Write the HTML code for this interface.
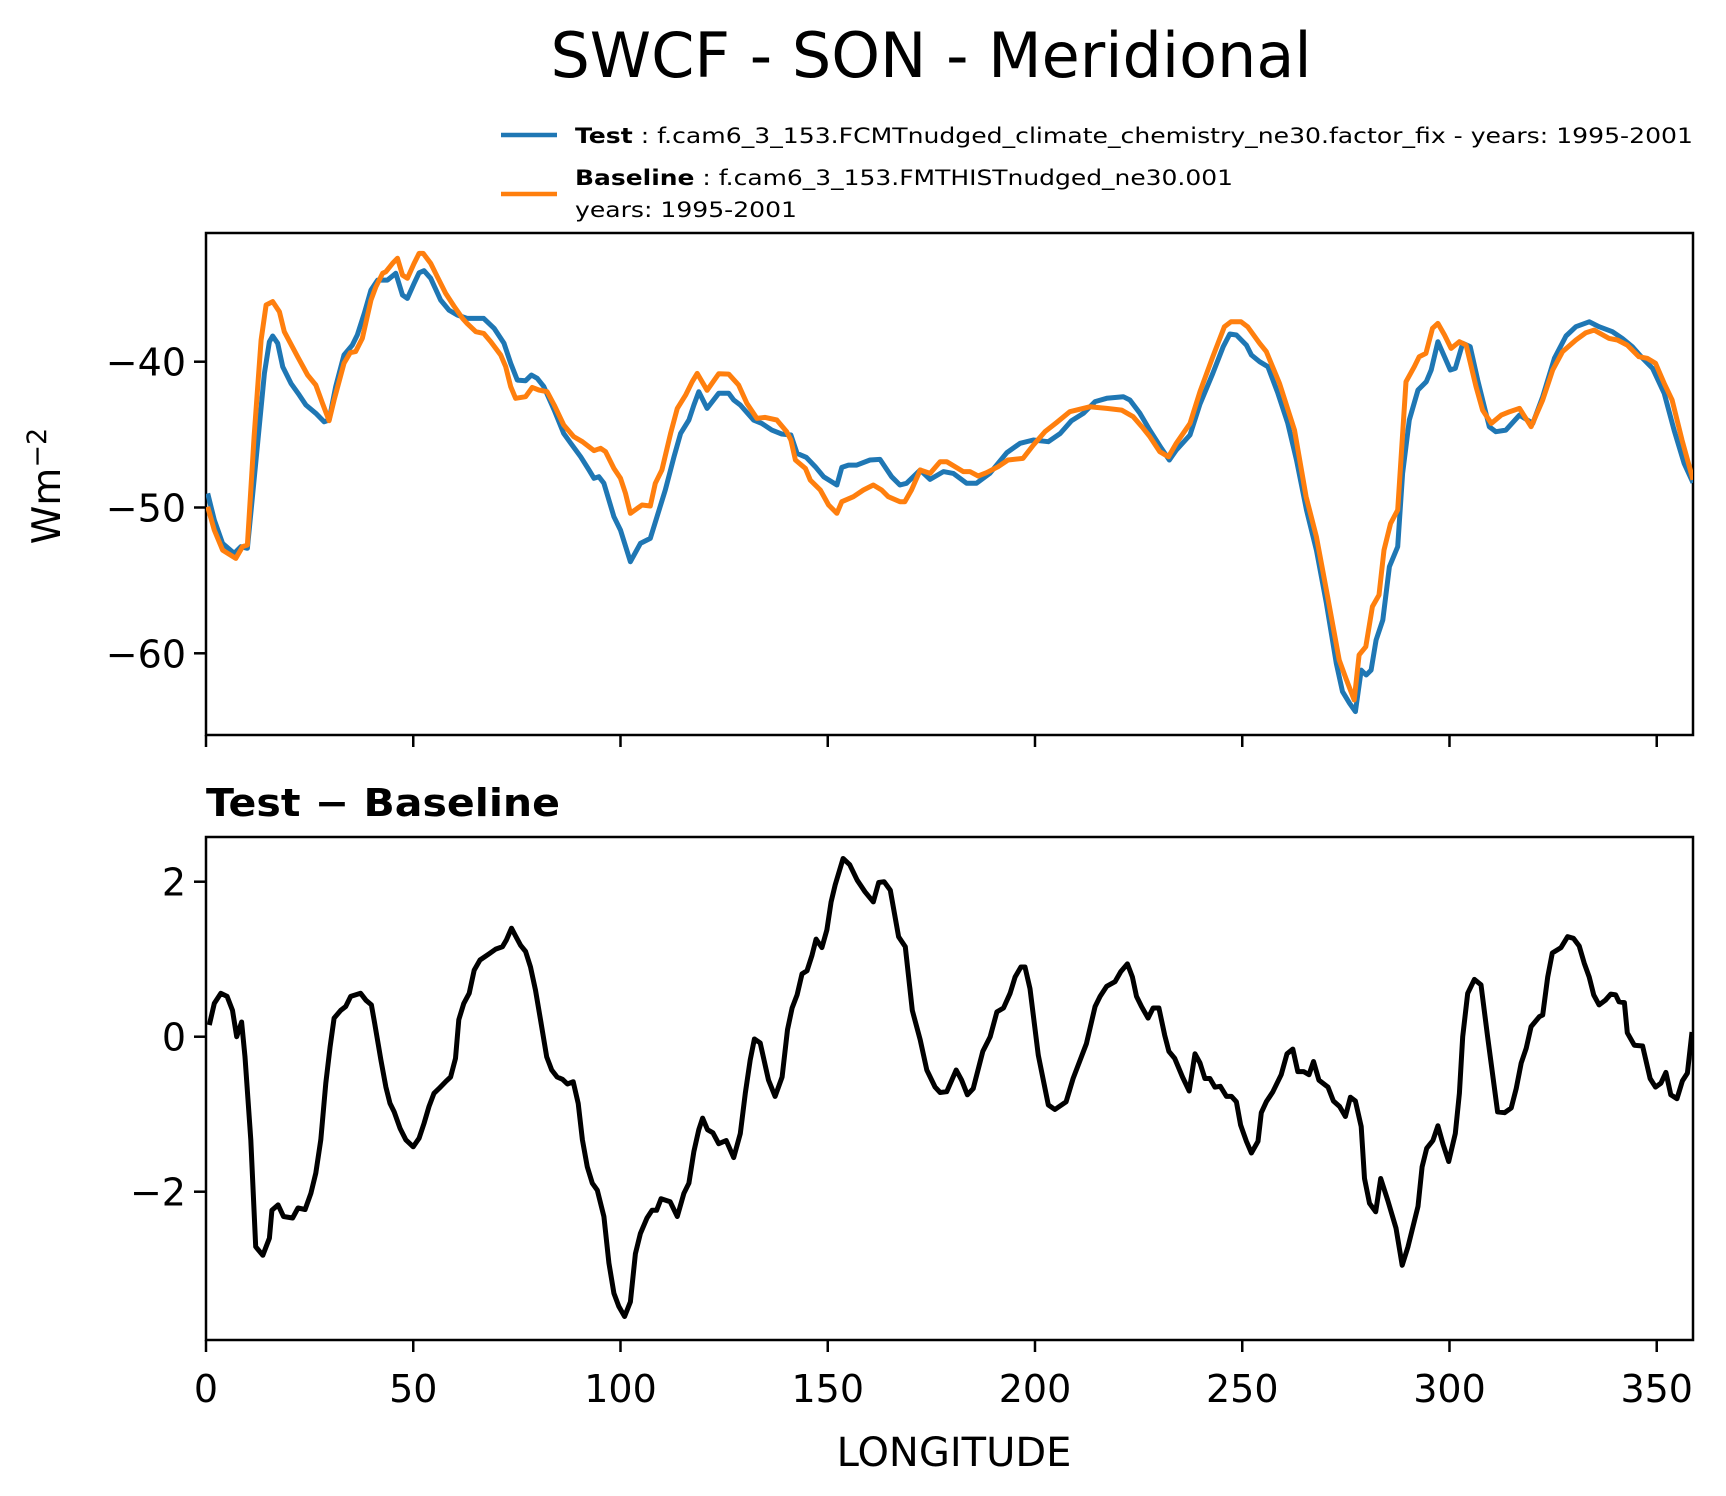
<!DOCTYPE html>
<html><head><meta charset="utf-8"><style>
html,body{margin:0;padding:0;background:#fff}
svg{display:block}
text{font-family:"DejaVu Sans","Liberation Sans",sans-serif;fill:#000}
</style></head><body>
<svg id="chart" width="1726" height="1496" viewBox="0 0 1726 1496" xmlns="http://www.w3.org/2000/svg">
<text x="931" y="77" font-size="62" text-anchor="middle">SWCF - SON - Meridional</text>
<g>
<line x1="501" y1="135" x2="557" y2="135" stroke="#1f77b4" stroke-width="4.5"/>
<text x="575" y="143" font-size="21" textLength="1118" lengthAdjust="spacingAndGlyphs"><tspan font-weight="bold">Test</tspan> : f.cam6_3_153.FCMTnudged_climate_chemistry_ne30.factor_fix - years: 1995-2001</text>
<line x1="501" y1="194" x2="557" y2="194" stroke="#ff7f0e" stroke-width="4.5"/>
<text x="575" y="185" font-size="21" textLength="658" lengthAdjust="spacingAndGlyphs"><tspan font-weight="bold">Baseline</tspan> : f.cam6_3_153.FMTHISTnudged_ne30.001</text>
<text x="575" y="217" font-size="21" textLength="222" lengthAdjust="spacingAndGlyphs">years: 1995-2001</text>
</g>
<text transform="translate(60,486) rotate(-90)" font-size="39" text-anchor="middle">Wm<tspan dy="-14" font-size="27">−2</tspan></text>
<text x="206" y="816" font-size="38" font-weight="bold" textLength="354" lengthAdjust="spacingAndGlyphs">Test − Baseline</text>
<text x="954" y="1466" font-size="40" text-anchor="middle">LONGITUDE</text>
<g id="top"></g>
<g id="bot"></g>
</svg>
<script>
const xTicks=[0,50,100,150,200,250,300,350];
const topTicks=[-40,-50,-60];
const botTicks=[2,0,-2];
const lonTest=[0.4,2,4,6.8,8.4,10,12,14.1,15.3,16.1,17.3,18.5,20.5,22.5,24.1,26.5,28.5,29.7,31.3,33.3,35.3,36.5,38.2,39.8,41.4,43.8,45.8,47.4,48.6,50.2,51.4,52.6,54.2,56.6,58.6,60.6,63,67,69.5,71.9,73.5,75.1,77.1,78.5,79.9,81.5,84,86.3,88,90.4,92.4,93.6,94.8,96,98.4,100,102.4,104.8,107.2,108.8,110.8,112.9,114.5,116.5,117.7,118.9,120.9,123.7,126.1,127.3,128.9,132.1,134.1,136.5,138.9,141.1,142.6,144.8,147,149,152.2,153.4,155,157,160.2,162.6,165.4,167.4,169,172.3,174.7,177.9,180.3,183.5,185.9,189.1,193.2,196.4,199.6,203.2,206.1,208.8,211.7,214.5,217.3,221.3,222.9,225.3,227.7,230.5,232.4,234.1,237.4,239.8,242.9,245.4,247,248.6,251,252.2,254.2,256.2,258.6,261,263.1,265.5,267.9,270.3,272.7,274.2,275.9,277.3,278.7,279.9,281.1,282.3,283.9,285.5,287.5,288.7,290.3,292.4,294.4,295.6,297.2,298.8,300.2,301.4,303.2,305,306.8,309.6,311.2,313.6,316.9,320.1,322.5,325.3,328.1,330.5,333.7,336.1,339.3,341.7,344.1,346.6,349,351.8,354.2,356.6,358.75];
const test=[-49.03,-50.86,-52.46,-53.15,-52.69,-52.8,-46.97,-40.8,-38.63,-38.24,-38.74,-40.34,-41.49,-42.29,-42.97,-43.54,-44.12,-44,-41.71,-39.54,-38.86,-38.17,-36.68,-35.08,-34.4,-34.4,-33.94,-35.43,-35.66,-34.63,-33.9,-33.76,-34.28,-35.77,-36.46,-36.8,-37.03,-37.03,-37.71,-38.74,-40.11,-41.26,-41.3,-40.91,-41.14,-41.71,-43.32,-44.92,-45.6,-46.52,-47.43,-48,-47.89,-48.34,-50.63,-51.55,-53.72,-52.46,-52.12,-50.63,-48.8,-46.52,-44.92,-44,-42.97,-42.06,-43.2,-42.17,-42.17,-42.63,-42.97,-44,-44.23,-44.69,-44.96,-45.03,-46.29,-46.56,-47.2,-47.89,-48.46,-47.25,-47.09,-47.09,-46.74,-46.7,-47.89,-48.46,-48.34,-47.43,-48.07,-47.54,-47.66,-48.34,-48.34,-47.66,-46.24,-45.6,-45.37,-45.49,-44.92,-44.05,-43.54,-42.74,-42.51,-42.4,-42.63,-43.54,-44.69,-45.94,-46.74,-46.06,-45.03,-42.9,-40.8,-38.97,-38.1,-38.17,-38.86,-39.54,-40,-40.34,-42.17,-44.23,-46.74,-50.17,-52.92,-56.57,-60.69,-62.63,-63.43,-64,-61.15,-61.49,-61.15,-59.09,-57.72,-54.06,-52.69,-47.66,-44,-41.94,-41.37,-40.57,-38.63,-39.66,-40.57,-40.46,-38.74,-38.97,-41.26,-44.46,-44.8,-44.69,-43.66,-44.23,-42.4,-39.77,-38.24,-37.6,-37.26,-37.6,-37.94,-38.4,-38.97,-39.77,-40.46,-42.17,-44.69,-46.97,-48.3];
const lonBase=[0.4,2,4,7.2,8.8,10,11.6,13.3,14.5,16.1,17.7,18.9,22.1,24.5,26.5,28.1,29.7,30.9,33.3,34.8,36.1,37.7,39.8,41,42.6,43.4,45,46.2,47.4,48.6,50.2,51.4,52.4,54.2,55.8,57.8,59.8,61.9,63,65.1,67,68.7,71.1,72.3,73.5,74.7,77.1,78.7,80.3,82.3,84,86.3,88.7,90.8,93.6,95.2,96.4,98.4,100,101.2,102.4,105.2,107.2,108.4,110,112.1,113.7,115.7,117.3,118.5,120.9,123.7,126.1,128.5,130.5,132.9,134.9,137.7,140.1,141.1,142.2,144.6,145.8,148.2,150.2,152.2,153.4,156.2,158.6,161,163,164.6,167.4,168.6,170.2,172.3,174.7,177.1,178.7,182.7,184.3,186.3,188.3,191.1,193.5,197.1,199.6,202.4,205.2,208.4,213.2,217.3,220.9,223.7,226.1,227.7,230.1,232.2,234.1,237.4,239.8,242.9,245.7,247.3,249.7,251.3,254.2,255.8,259,262.6,265.4,267.9,270.6,273.4,275,277,278.2,279.8,281.4,283,284.2,285.8,287.5,289.5,291.5,292.7,294.3,295.9,297.2,298.8,300.4,302.4,304,306.4,308,310.1,312.5,314.5,316.9,319.7,322.5,324.9,327.3,330.5,332.9,334.9,338.5,340.5,342.9,345.7,347.7,349.7,351.8,353.7,356.1,358.75];
const base=[-49.95,-51.55,-52.92,-53.49,-52.69,-52.57,-45.14,-38.51,-36.11,-35.88,-36.57,-37.94,-39.66,-40.91,-41.6,-42.86,-44.05,-42.63,-40.11,-39.38,-39.31,-38.4,-35.77,-34.86,-33.94,-33.83,-33.26,-32.91,-34.06,-34.28,-33.26,-32.57,-32.57,-33.26,-34.17,-35.31,-36.18,-37.03,-37.37,-37.94,-38.06,-38.63,-39.54,-40.34,-41.71,-42.51,-42.4,-41.76,-41.94,-42.06,-42.97,-44.34,-45.14,-45.49,-46.1,-45.94,-46.17,-47.32,-48,-49.03,-50.4,-49.83,-49.9,-48.34,-47.43,-44.92,-43.2,-42.29,-41.37,-40.8,-41.96,-40.83,-40.85,-41.6,-42.86,-43.89,-43.82,-44,-44.8,-45.37,-46.74,-47.32,-48.12,-48.8,-49.83,-50.4,-49.6,-49.26,-48.8,-48.46,-48.8,-49.26,-49.6,-49.6,-48.8,-47.43,-47.66,-46.86,-46.86,-47.54,-47.54,-47.84,-47.61,-47.2,-46.74,-46.63,-45.72,-44.8,-44.18,-43.43,-43.09,-43.2,-43.32,-43.77,-44.57,-45.14,-46.17,-46.52,-45.6,-44.23,-42.05,-39.66,-37.6,-37.26,-37.26,-37.6,-38.74,-39.31,-41.49,-44.69,-49.26,-52,-56.11,-60.46,-61.72,-63.2,-60.11,-59.55,-56.8,-56,-52.92,-51.09,-50.17,-41.37,-40.34,-39.66,-39.43,-37.71,-37.37,-38.17,-39.09,-38.63,-38.86,-41.71,-43.32,-44.23,-43.66,-43.43,-43.2,-44.46,-42.63,-40.57,-39.31,-38.51,-38.01,-37.83,-38.4,-38.51,-38.86,-39.66,-39.77,-40.11,-41.49,-42.63,-45.37,-48.1];
const lonDiff=[0.8,2,3.6,5.1,6.4,7.4,8.6,9.4,10.8,12,13.7,15.3,15.9,17.4,18.7,20.9,22.2,23.9,25.3,26.5,27.7,28.9,29.95,30.9,32.5,33.7,34.9,37.3,38.6,39.9,40.7,42.2,43.4,44.4,45.4,46.8,48.2,50,51.4,52.6,53.8,55,56.2,57.8,59,60.2,61,62.2,63.5,64.7,66.1,68.3,69.9,71.5,72.5,73.7,74.7,75.9,77.1,78.3,79.5,80.7,82.2,83.4,84.7,86,87.2,88.6,89.8,90.8,92,93.2,94.4,96,97.2,98.4,99.6,101,102.4,103.6,104.8,106.4,107.6,108.7,109.8,112,113.7,115.3,116.5,117.7,118.9,119.8,121,122.3,123.7,125.5,127.3,128.9,130.1,131.3,132.3,133.7,135.7,137.3,139,140.3,141.4,142.6,143.8,145,146.2,147.2,148.6,149.8,150.8,151.8,153.7,155.3,157.1,159,161,162.3,163.6,165.1,167.1,168.7,170.4,172.3,173.9,175.9,177.1,178.7,181,182.3,183.7,185.1,187.4,189.2,190.8,192.4,194,195.2,196.6,197.6,198.8,200.8,203.2,204.8,207.5,209.2,212.4,214.5,215.7,217.3,219.3,220.7,222.3,223.5,224.5,225.7,227.3,228.5,229.9,231.3,232.3,233.7,235.6,237.2,238.6,239.8,241,242.2,243.4,244.7,246.2,247.4,248.6,249.6,251,252.2,253.8,254.6,255.8,257.4,259.4,260.8,262.2,263.4,264.8,266.1,267.2,268.5,270.7,272,273.5,274.9,276.1,277.3,278.7,279.5,280.7,282.2,283.4,285.1,287.1,288.6,290,292.4,293.4,294.5,296,297.2,298.4,299.8,301.4,302.4,303.2,304.4,306,307.6,309.2,311.6,313.3,314.9,316.1,317.3,318.5,319.7,321.7,322.5,323.7,324.8,326.9,328.5,329.9,331.3,332.5,333.7,334.8,336.1,337.6,338.9,340.1,340.9,342.2,342.9,344.6,346.6,348.4,349.7,351,352.2,353.4,354.9,356.2,357.4,358.5];
const diff=[0.15,0.43,0.56,0.52,0.34,0,0.19,-0.26,-1.33,-2.71,-2.82,-2.6,-2.24,-2.17,-2.32,-2.34,-2.21,-2.23,-2.02,-1.76,-1.33,-0.6,-0.13,0.24,0.34,0.39,0.52,0.56,0.47,0.41,0.17,-0.3,-0.65,-0.86,-0.97,-1.18,-1.33,-1.42,-1.31,-1.12,-0.9,-0.73,-0.67,-0.58,-0.52,-0.28,0.22,0.43,0.56,0.86,0.99,1.07,1.13,1.16,1.25,1.4,1.3,1.18,1.1,0.9,0.6,0.22,-0.26,-0.43,-0.52,-0.55,-0.61,-0.58,-0.86,-1.33,-1.68,-1.89,-1.98,-2.32,-2.92,-3.31,-3.48,-3.61,-3.42,-2.8,-2.54,-2.34,-2.24,-2.24,-2.09,-2.13,-2.32,-2.02,-1.89,-1.48,-1.2,-1.05,-1.2,-1.24,-1.38,-1.34,-1.56,-1.25,-0.73,-0.3,-0.03,-0.08,-0.56,-0.77,-0.52,0.09,0.37,0.54,0.81,0.85,1.05,1.26,1.15,1.38,1.74,1.96,2.3,2.22,2.02,1.87,1.74,1.99,2,1.89,1.29,1.16,0.34,-0.04,-0.43,-0.65,-0.72,-0.71,-0.43,-0.56,-0.75,-0.67,-0.19,0,0.32,0.37,0.56,0.77,0.9,0.9,0.62,-0.24,-0.88,-0.94,-0.84,-0.54,-0.09,0.39,0.52,0.65,0.71,0.84,0.94,0.77,0.52,0.39,0.24,0.37,0.37,0.02,-0.19,-0.28,-0.52,-0.7,-0.22,-0.34,-0.54,-0.54,-0.65,-0.64,-0.77,-0.77,-0.84,-1.14,-1.35,-1.5,-1.35,-0.98,-0.84,-0.71,-0.49,-0.22,-0.16,-0.45,-0.45,-0.49,-0.32,-0.56,-0.65,-0.83,-0.9,-1.03,-0.78,-0.83,-1.16,-1.83,-2.15,-2.26,-1.83,-2.11,-2.47,-2.95,-2.71,-2.19,-1.68,-1.44,-1.34,-1.15,-1.38,-1.61,-1.25,-0.73,0,0.56,0.74,0.67,0,-0.97,-0.98,-0.92,-0.67,-0.34,-0.15,0.13,0.26,0.28,0.77,1.08,1.15,1.29,1.27,1.17,0.95,0.77,0.54,0.41,0.47,0.55,0.54,0.45,0.44,0.05,-0.11,-0.12,-0.54,-0.65,-0.6,-0.46,-0.75,-0.8,-0.57,-0.47,0.06];

const NS='http://www.w3.org/2000/svg';
const L=206,R=1693;
const xs=v=>L+(R-L)*v/358.75;
const yTop=v=>361.7-(v+40)*14.58;
const yBot=v=>1036.7-v*77.5;
function mk(tag,attrs,parent){const e=document.createElementNS(NS,tag);for(const k in attrs)e.setAttribute(k,attrs[k]);parent.appendChild(e);return e;}
function path(lons,vals,yf){return lons.map((l,i)=>(i?'L':'M')+xs(l).toFixed(1)+','+yf(vals[i]).toFixed(1)).join(' ');}

function axes(g,top,bot,yf,ticks,labels,name){
  const clip=mk('clipPath',{id:'clip-'+name},g);
  mk('rect',{x:L,y:top,width:R-L,height:bot-top},clip);
  const frame=mk('rect',{x:L,y:top,width:R-L,height:bot-top,fill:'none',stroke:'#000','stroke-width':2.5},g);
  
  
  xTicks.forEach(t=>{
    const tk=mk('line',{x1:xs(t),x2:xs(t),y1:bot,y2:bot+12,stroke:'#000','stroke-width':2.5},g);
    
    
    if(labels){
      const tx=mk('text',{x:xs(t),y:bot+62,'font-size':38,'text-anchor':'middle'},g);
      tx.textContent=String(t);
      
      
    }
  });
  ticks.forEach(t=>{
    const tk=mk('line',{x1:L-12,x2:L,y1:yf(t),y2:yf(t),stroke:'#000','stroke-width':2.5},g);
    
    
    const tx=mk('text',{x:L-20,y:yf(t)+14,'font-size':38,'text-anchor':'end'},g);
    tx.textContent=(t<0?'−':'')+Math.abs(t);
    
    
  });
}
const gt=document.getElementById('top');


axes(gt,233,735,yTop,topTicks,false,'top-panel');
const pt=mk('path',{d:path(lonTest,test,yTop),fill:'none',stroke:'#1f77b4','stroke-width':5,'stroke-linejoin':'round','clip-path':'url(#clip-top-panel)'},gt);


const pb=mk('path',{d:path(lonBase,base,yTop),fill:'none',stroke:'#ff7f0e','stroke-width':5,'stroke-linejoin':'round','clip-path':'url(#clip-top-panel)'},gt);



const gb=document.getElementById('bot');


axes(gb,837,1340,yBot,botTicks,true,'diff-panel');
const pd=mk('path',{d:path(lonDiff,diff,yBot),fill:'none',stroke:'#000','stroke-width':5,'stroke-linejoin':'round','clip-path':'url(#clip-diff-panel)'},gb);


</script>
</body></html>
